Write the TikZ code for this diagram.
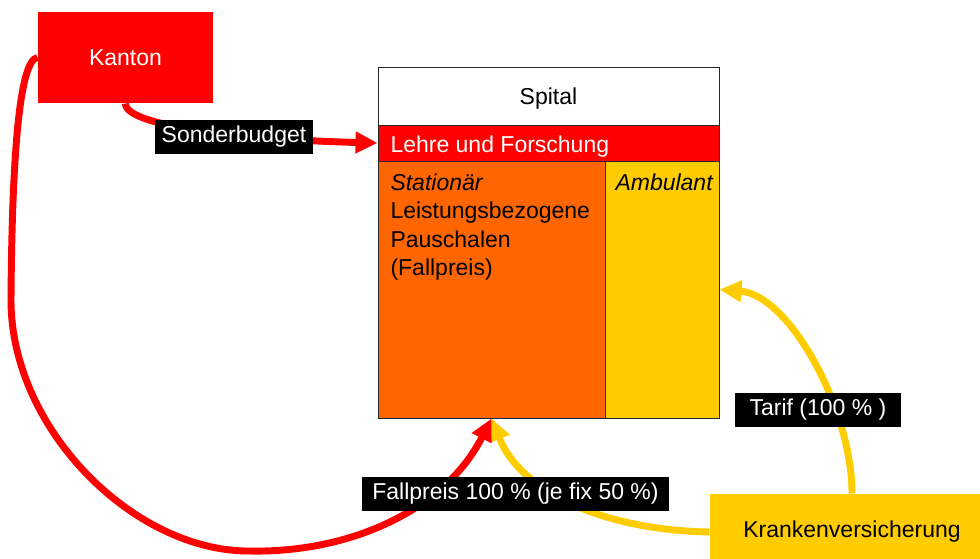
\documentclass[tikz,border=0pt]{standalone}
\usepackage{fontspec}
\setmainfont{Liberation Sans}
\usetikzlibrary{arrows.meta}

\definecolor{kantonred}{RGB}{255,0,0}
\definecolor{statorange}{RGB}{255,102,0}
\definecolor{kvyellow}{RGB}{255,204,0}

\tikzset{every picture/.style={line width=0.75pt}}
\tikzset{
  txt/.style={font=\fontsize{17.25}{21.4}\selectfont, inner sep=0pt},
  cell/.style={txt, draw=black!85, line width=0.75pt},
  flowlabel/.style={txt, fill=black, text=white, minimum height=25.5pt},
  flow/.style={line width=5.2pt, -{Triangle[length=16.5pt,width=15.5pt]}},
}

\begin{document}
\begin{tikzpicture}[x=0.75pt,y=0.75pt,yscale=-1,xscale=1]
	\useasboundingbox (0,0) rectangle (980,558);

	%Shape: Rectangle [Kanton]
	\node[txt, fill=kantonred, text=white, minimum width=131.25pt, minimum height=68.25pt] (kanton) at (125.5,57.5) {Kanton};
	%Shape: Rectangle [Krankenversicherung]
	\node[txt, fill=kvyellow, minimum width=213pt, minimum height=57pt] (kv) at (852,532) {Krankenversicherung};

	%Shape: Rectangle [Spital]
	\node[cell, fill=white, text depth=0pt, minimum width=255.75pt, minimum height=43.5pt] (spital) at (548.5,96) {Spital};
	\node[cell, fill=kantonred, minimum width=255.75pt, minimum height=27pt] (lehre) at (548.5,143) {};
	\node[cell, fill=statorange, minimum width=170.25pt, minimum height=192.75pt] (stationaer) at (491.5,289.5) {};
	\node[cell, fill=kvyellow, minimum width=85.5pt, minimum height=192.75pt] (ambulant) at (662,289.5) {};

	% Text Node
	\node[txt, text=white, anchor=base west] (lehretext) at (390,152) {Lehre und Forschung};
	% Text Node
	\node[txt, anchor=north west, align=left] (stattext) at (390,173) {\textit{Stationär}\\Leistungsbezogene\\Pauschalen\\(Fallpreis)};
	% Text Node
	\node[txt, anchor=base west] (ambtext) at (615,190) {\textit{Ambulant}};

	%Curve Lines
	\draw[flow, kvyellow] (kv.north) .. controls (852,410) and (790,295) .. (ambulant.east);
	\draw[flow, kvyellow] (kv.west) .. controls (600,530) and (520,490) .. (stationaer.south);
	\draw[flow, kantonred] (kanton.south) .. controls (125,128) and (260,140) .. (lehre.west);
	\draw[flow, kantonred] (kanton.west) .. controls (20,60) and (12,150) .. (11,300)
	  .. controls (11,430) and (135,552) .. (250,551)
	  .. controls (350,553) and (445,510) .. (stationaer.south);

	% Text Node
	\node[flowlabel, minimum width=118.5pt] (sonder) at (234,137) {Sonderbudget};
	% Text Node
	\node[flowlabel, minimum width=230.25pt] (fallpreis) at (515.5,494) {Fallpreis 100 \% (je fix 50 \%)};
	% Text Node
	\node[flowlabel, minimum width=124.5pt] (tarif) at (818,410) {Tarif (100 \% )};

\end{tikzpicture}
\end{document}
